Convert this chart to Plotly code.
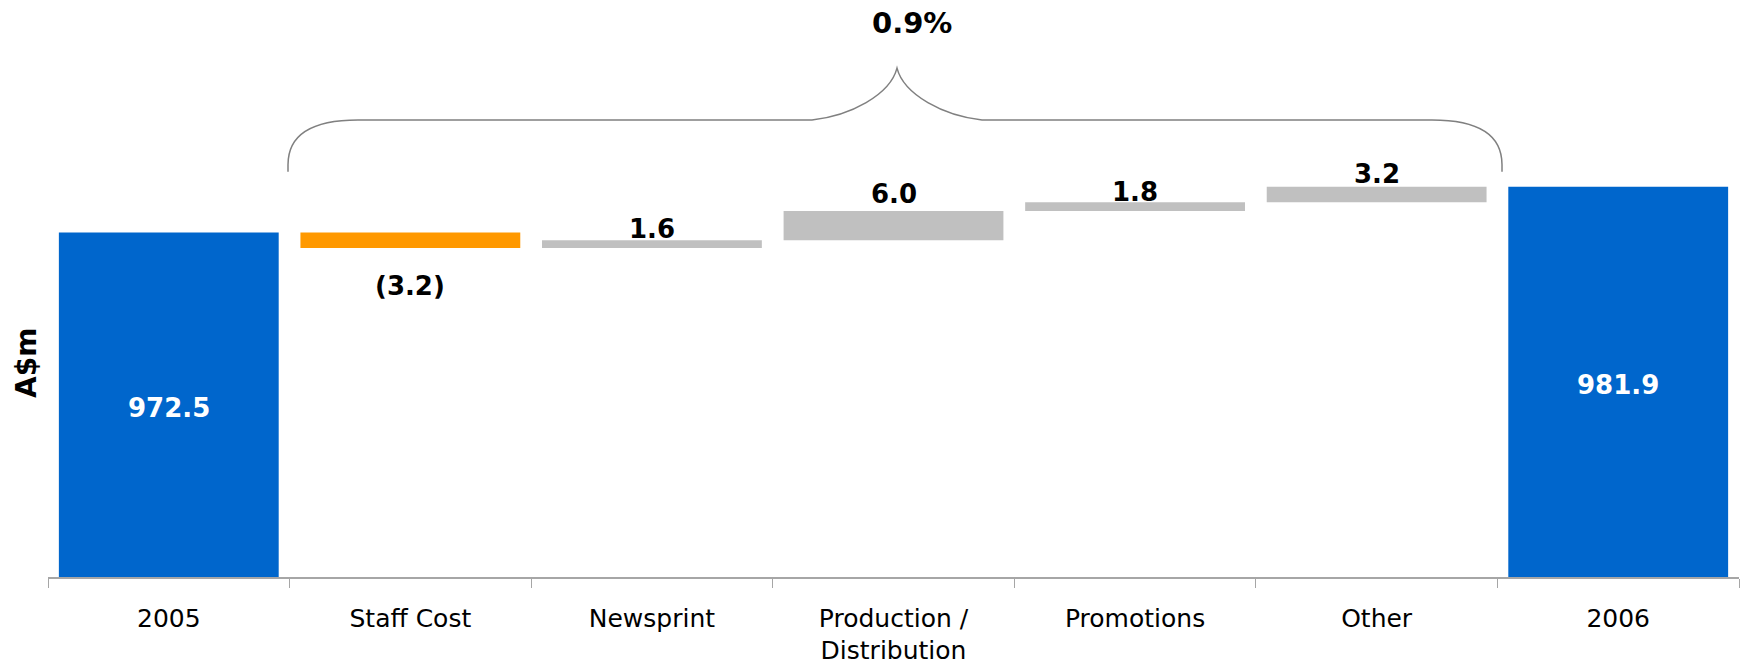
import plotly.graph_objects as go

# Revenue bridge, A$m
categories = ["2005", "Staff Cost", "Newsprint", "Production /<br>Distribution",
              "Promotions", "Other", "2006"]
start_value = 972.5
end_value = 981.9
step_labels = ["Staff Cost", "Newsprint", "Production /<br>Distribution", "Promotions", "Other"]
step_changes = [-3.2, 1.6, 6.0, 1.8, 3.2]
growth_text = "0.9%"

# styling
BLUE = "#0066CC"
ORANGE = "#FF9900"
GREY = "#C0C0C0"
FONT = "DejaVu Sans"
label_shift = [-38, 11, 17, 10, 13]  # px offset of each step label from its bar end

W, H = 1744, 670
L, R, T, B = 48, 5, 100, 91
y_lo, y_hi = 901.8, 999.68

# floating bases of the step bars
bases = []
running = start_value
for c in step_changes:
    bases.append(running)
    running += c

fig = go.Figure()
fig.add_trace(go.Bar(
    x=[categories[0], categories[-1]], y=[start_value, end_value], base=0,
    marker=dict(color=BLUE, line=dict(width=0)), width=0.91, hoverinfo="skip",
))
fig.add_trace(go.Bar(
    x=step_labels, y=step_changes, base=bases,
    marker=dict(color=[ORANGE if c < 0 else GREY for c in step_changes], line=dict(width=0)),
    width=0.91, hoverinfo="skip",
))

ann = []
# totals: white labels centred in the visible part of the bar
for cat, v in [(categories[0], start_value), (categories[-1], end_value)]:
    ann.append(dict(x=categories.index(cat), y=(y_lo + v) / 2, xref="x", yref="y",
                    text=f"{v:.1f}", showarrow=False, yshift=-3,
                    font=dict(family=FONT, size=26, color="white", weight="bold")))
# step labels
for cat, b, c, dy in zip(step_labels, bases, step_changes, label_shift):
    txt = f"({abs(c):.1f})" if c < 0 else f"{c:.1f}"
    ann.append(dict(x=categories.index(cat), y=b + c, xref="x", yref="y", text=txt,
                    showarrow=False, yanchor="middle", yshift=dy,
                    font=dict(family=FONT, size=26, color="black", weight="bold")))

pw, ph = W - L - R, H - T - B


def px2paper(px, py):
    return (px - L) / pw, (H - B - py) / ph


# growth label above the brace
gx, gy = px2paper(912, 23)
ann.append(dict(x=gx, y=gy, xref="paper", yref="paper", text=growth_text, showarrow=False,
                xanchor="center", yanchor="middle",
                font=dict(family=FONT, size=29, color="black", weight="bold")))
# axis title
tx, ty = px2paper(27, 364)
ann.append(dict(x=tx, y=ty, xref="paper", yref="paper", text="A$m", showarrow=False,
                textangle=-90, xanchor="center", yanchor="middle",
                font=dict(family=FONT, size=28, color="black", weight="bold")))

# curly brace spanning the step bars
brace_pts = [
    ("M", [(288, 172)]), ("L", [(288, 165)]),
    ("C", [(288, 130), (320, 120), (358, 120)]),
    ("L", [(812, 120)]),
    ("C", [(850, 116), (890, 95), (897, 68)]),
    ("C", [(904, 95), (944, 116), (982, 120)]),
    ("L", [(1432, 120)]),
    ("C", [(1470, 120), (1502, 130), (1502, 165)]),
    ("L", [(1502, 172)]),
]
path = ""
for cmd, pts in brace_pts:
    path += cmd + " " + " ".join("%.5f,%.5f" % px2paper(*p) for p in pts) + " "

fig.update_layout(
    width=W, height=H,
    margin=dict(l=L, r=R, t=T, b=B),
    paper_bgcolor="white", plot_bgcolor="white",
    showlegend=False, barmode="overlay",
    annotations=ann,
    shapes=[dict(type="path", path=path.strip(), xref="paper", yref="paper",
                 line=dict(color="#808080", width=1.5), layer="above")],
    xaxis=dict(type="category", categoryorder="array", categoryarray=categories,
               range=[-0.5, len(categories) - 0.5], tickangle=0,
               showline=True, linecolor="#A6A6A6", linewidth=1.5,
               ticks="outside", tickson="boundaries", ticklen=9, tickcolor="#A6A6A6",
               ticklabelstandoff=18,
               tickfont=dict(family=FONT, size=25, color="black"), showgrid=False,
               fixedrange=True),
    yaxis=dict(range=[y_lo, y_hi], visible=False, showgrid=False, fixedrange=True),
)

fig.write_html("out.html")
